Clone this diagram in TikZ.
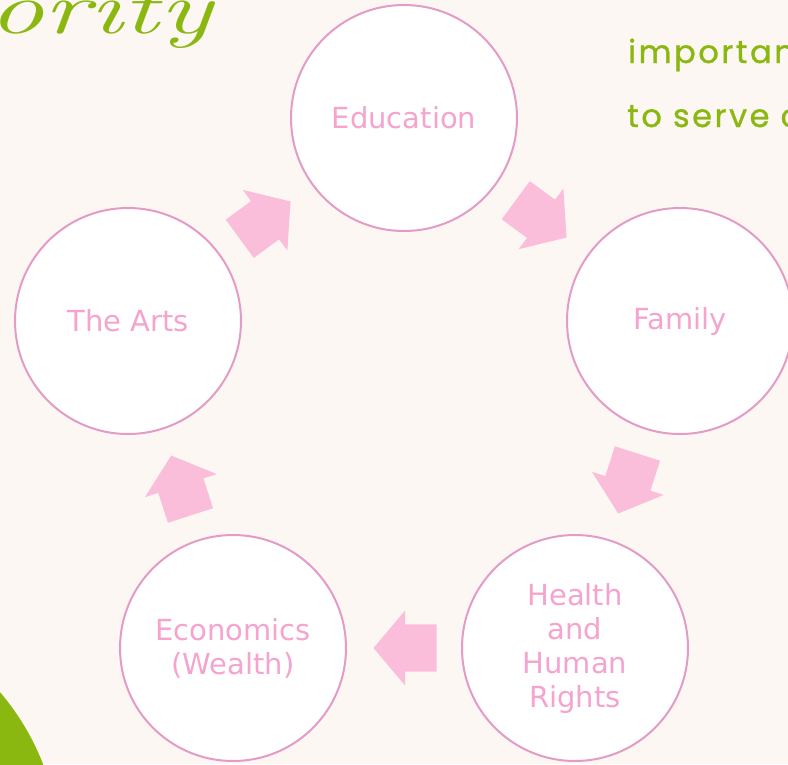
\documentclass[tikz,border=0pt]{standalone}
\usepackage{fontspec}
\usetikzlibrary{shapes.arrows,calc}
\newfontfamily\circfont{DejaVu Sans}
\newfontfamily\topfont[LetterSpace=8,FakeBold=1]{Poppins}
\definecolor{bgc}{HTML}{FDF7F4}
\definecolor{ringc}{HTML}{E39CC6}
\definecolor{txtc}{HTML}{F4A4CE}
\definecolor{arrc}{HTML}{FABDDA}
\definecolor{grn}{HTML}{8BB810}
\begin{document}
\begin{tikzpicture}[x=1pt,y=-1pt,
  topic/.style={circle, draw=ringc, line width=2pt, fill=white, minimum size=226pt,
    inner sep=0pt, text=txtc, font=\circfont\fontsize{29}{34}\selectfont, align=center},
  blockarrow/.style={single arrow, fill=arrc, draw=none, minimum height=63pt,
    single arrow head extend=14pt, single arrow tip angle=100,
    inner xsep=0pt, inner ysep=23.5pt},
  greentext/.style={text=grn, inner sep=0pt}]
\useasboundingbox (0,0) rectangle (788,764);
\fill[bgc] (0,0) rectangle (788,764);
% green blob
\fill[grn] (-191,855) circle (251);
% handwritten title fragment
\node[greentext, anchor=base west, font=\fontsize{74}{74}\selectfont\itshape, xscale=1.5] (title) at (-12,33) {ority};
% top-right text fragment
\node[greentext, anchor=base west, font=\topfont\fontsize{32}{38}\selectfont] (line2) at (628,63) {importan};
\node[greentext, anchor=base west, font=\topfont\fontsize{32}{38}\selectfont] (line3) at (627,127) {to serve c};
% circles
\node[topic] (edu) at (404,118) {Education};
\node[topic] (fam) at (680,321) {Family};
\node[topic] (hlth) at (575,648) {Health\\and\\Human\\Rights};
\node[topic] (econ) at (233,648) {Economics\\(Wealth)};
\node[topic] (arts) at (128,321) {The Arts};
% block arrows (each points from one topic to the next)
\node[blockarrow, rotate=36.3] (a1) at ($(arts)!0.5!(edu)!11pt!(arts)$) {};
\node[blockarrow, rotate=-36.3] (a2) at ($(edu)!0.5!(fam)!11pt!(edu)$) {};
\node[blockarrow, rotate=-107.8] (a3) at ($(fam)!0.5!(hlth)!11pt!(fam)$) {};
\node[blockarrow, rotate=180] (a4) at ($(hlth)!0.5!(econ)!11pt!(hlth)$) {};
\node[blockarrow, rotate=107.8] (a5) at ($(econ)!0.5!(arts)!11pt!(econ)$) {};
\end{tikzpicture}
\end{document}
